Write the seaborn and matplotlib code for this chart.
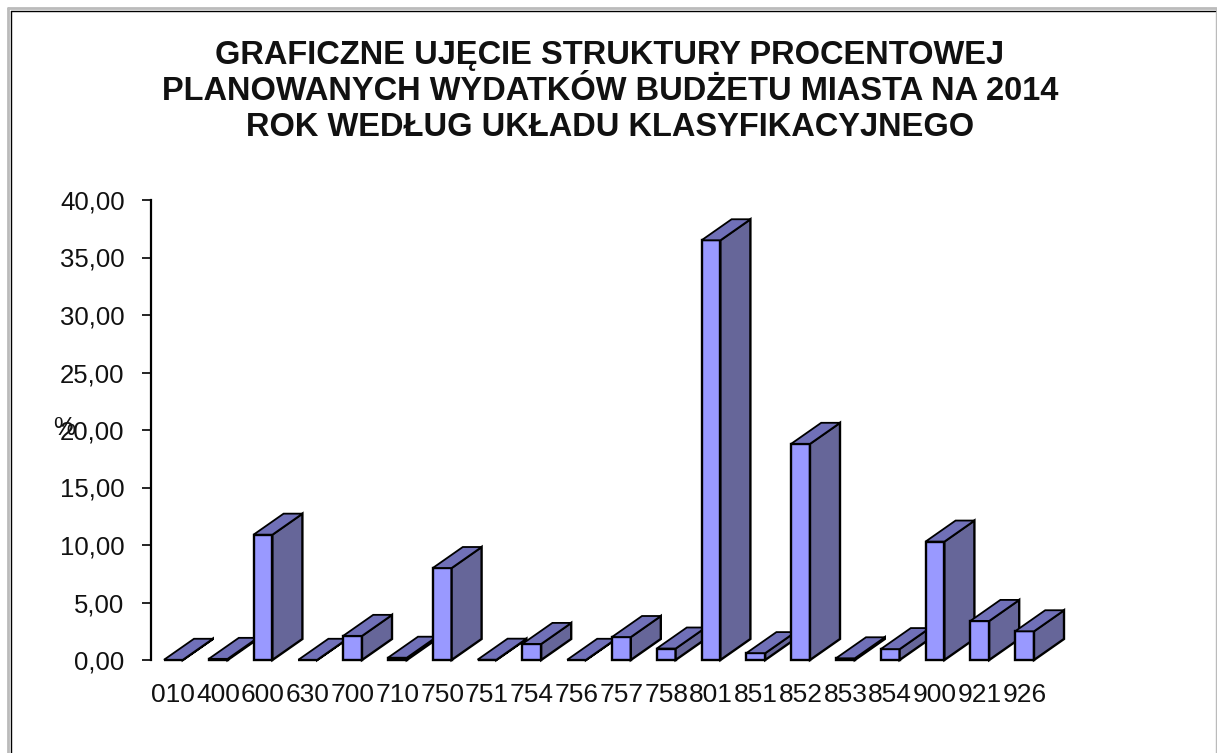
import numpy as np
import matplotlib
matplotlib.use('Agg')
import matplotlib.pyplot as plt
import seaborn as sns
from matplotlib.lines import Line2D
from matplotlib.patches import Polygon

sns.set_style('white')
plt.rcParams['font.family'] = ['Liberation Sans', 'DejaVu Sans']

categories = ['010', '400', '600', '630', '700', '710', '750', '751', '754', '756',
              '757', '758', '801', '851', '852', '853', '854', '900', '921', '926']
values = [0.02, 0.10, 10.90, 0.02, 2.10, 0.20, 8.00, 0.03, 1.40, 0.02,
          2.00, 1.00, 36.50, 0.60, 18.80, 0.15, 0.95, 10.30, 3.40, 2.50]
y_ticks = [0, 5, 10, 15, 20, 25, 30, 35, 40]
title = ('GRAFICZNE UJĘCIE STRUKTURY PROCENTOWEJ\n'
         'PLANOWANYCH WYDATKÓW BUDŻETU MIASTA NA 2014\n'
         'ROK WEDŁUG UKŁADU KLASYFIKACYJNEGO')

W, H = 1217, 753
fig = plt.figure(figsize=(W / 100, H / 100), dpi=100, facecolor='white')
ax = fig.add_axes([151 / W, 1 - 660 / H, 896 / W, 460 / H])

bar_w = 0.42
sns.barplot(x=categories, y=values, color='#9999FF', saturation=1, width=bar_w,
            edgecolor='black', linewidth=1.7, ax=ax)
ax.set_xlim(-0.5, 19.5)
ax.set_ylim(0, 40)

# fake 3D depth, same offset for every bar
dx = 30 / 44.8
dy = 21 / 11.5
for i, (bar, v) in enumerate(zip(ax.patches, values)):
    bar.set_zorder(3 + i)
    bar.set_clip_on(False)
    l = i - bar_w / 2
    r = i + bar_w / 2
    side = Polygon([(r, 0), (r + dx, dy), (r + dx, v + dy), (r, v)], closed=True,
                   facecolor='#666699', edgecolor='black', linewidth=1.7,
                   clip_on=False, zorder=3 + i)
    top = Polygon([(l, v), (l + dx, v + dy), (r + dx, v + dy), (r, v)], closed=True,
                  facecolor='#7070B8', edgecolor='black', linewidth=1.3,
                  clip_on=False, zorder=3 + i)
    ax.add_patch(side)
    ax.add_patch(top)

sns.despine(ax=ax, bottom=True)
ax.spines['left'].set_linewidth(1.6)
ax.spines['left'].set_color('black')
ax.set_yticks(y_ticks)
ax.set_yticklabels([f'{t:.2f}'.replace('.', ',') for t in y_ticks], fontsize=18.5, color='#111111')
ax.tick_params(axis='y', left=True, length=6.5, width=1.2, color='black', pad=12.5)
ax.tick_params(axis='x', bottom=False, pad=12.8, labelsize=19, labelcolor='#111111')
ax.set_xlabel('')
ax.set_ylabel('%', rotation=0, fontsize=18, color='#111111')
ax.yaxis.set_label_coords(-87 / 896, 220 / 460)

fig.text(610 / W, 1 - 91.5 / H, title, ha='center', va='center', fontsize=23.5,
         fontweight='bold', color='#111111', linespacing=1.2)

# frame of the screenshot
for xs, ys, c, lw in [([8, 8], [H, 8], '#BBBBBB', 2),
                      ([8, 1216], [8, 8], '#BBBBBB', 2),
                      ([1216, 1216], [8, H], '#BBBBBB', 1),
                      ([10.5, 10.5], [H, 10.5], 'black', 1),
                      ([10.5, 1215], [10.5, 10.5], 'black', 1)]:
    fig.add_artist(Line2D(np.array(xs) / W, 1 - np.array(ys) / H, color=c, lw=lw))

fig.savefig('out.png', dpi=100)
